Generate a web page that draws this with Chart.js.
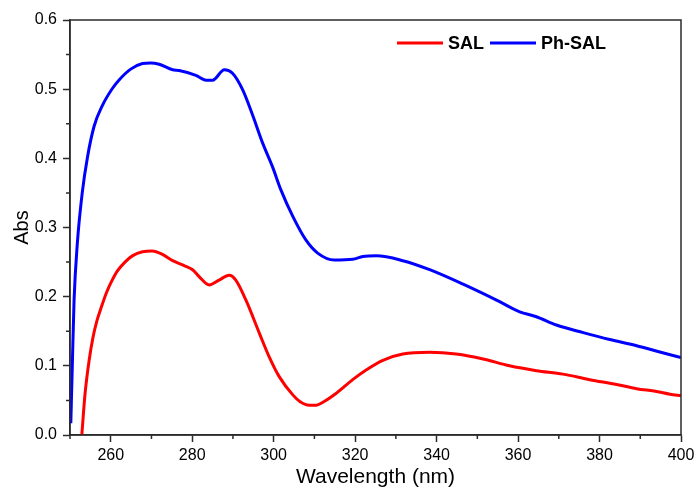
<!DOCTYPE html>
<html>
<head>
<meta charset="utf-8">
<script src="https://cdn.jsdelivr.net/npm/chart.js@4/dist/chart.umd.min.js"></script>
<style>
  html, body { margin: 0; padding: 0; background: #fff; }
  #wrap { width: 694px; height: 488px; }
</style>
</head>
<body>
<div id="wrap"><canvas id="uv" width="694" height="488"></canvas></div>
<script>
// SAL spectrum (wavelength nm / absorbance)
const SAL_NM = [252.9, 253.7, 254.7, 255.6, 256.6, 257.7, 258.9, 260.2, 261.6, 263.5, 265.3, 267.8, 270.2, 272.7,
  275.2, 278, 280.1, 281.7, 284.2, 286.6, 289.1, 290.7, 293.2, 296.5, 298.9, 301.4, 304.7, 306.5,
  308.8, 310.5, 312, 315.3, 319.4, 322.7, 326.8, 331.7, 338.3, 344.8, 351.4, 357.9, 364.5, 371,
  377.6, 384.2, 389.1, 394, 397.3, 400];
const SAL_ABS = [0.0, 0.06, 0.108, 0.14, 0.165, 0.185, 0.205, 0.222, 0.237, 0.25, 0.259, 0.265, 0.266, 0.261,
  0.252, 0.245, 0.239, 0.229, 0.217, 0.224, 0.231, 0.224, 0.195, 0.147, 0.113, 0.084, 0.058, 0.048,
  0.043, 0.043, 0.047, 0.06, 0.08, 0.094, 0.108, 0.117, 0.1195, 0.117, 0.11, 0.1, 0.093, 0.088,
  0.08, 0.073, 0.067, 0.063, 0.059, 0.057];

// Ph-SAL spectrum
const PHSAL_NM = [250.2, 250.6, 251, 251.8, 253, 254.3, 255.9, 258, 260.4, 262, 264.9, 267.8, 269.8,
  271.9, 275.2, 276.8, 280.9, 283.4, 285, 287.9, 289.9, 292.4, 294.8, 297.3, 299.7, 301.8, 304.7,
  307.9, 310.8, 314.9, 319.4, 321.9, 325.2, 331.7, 338.3, 346.5, 354.7, 360.4, 364.5, 369.4, 376,
  382.5, 389.1, 394.8, 400];
const PHSAL_ABS = [0.017, 0.108, 0.195, 0.277, 0.35, 0.402, 0.446, 0.477, 0.501, 0.513, 0.529, 0.537, 0.538,
  0.536, 0.528, 0.527, 0.52, 0.513, 0.513, 0.528, 0.523, 0.499, 0.463, 0.422, 0.388, 0.354, 0.316,
  0.282, 0.263, 0.253, 0.254, 0.258, 0.259, 0.252, 0.239, 0.218, 0.195, 0.178, 0.171, 0.159, 0.148,
  0.138, 0.129, 0.12, 0.112];

const SERIES = ['SAL', 'Ph-SAL'];
const COLORS = ['#ff0000', '#0000ff'];

const X_MAJOR = [260, 280, 300, 320, 340, 360, 380, 400];
const X_MINOR = [250, 270, 290, 310, 330, 350, 370, 390];
const Y_MINOR = [0.05, 0.15, 0.25, 0.35, 0.45, 0.55];

const AXIS = '#2b2b2b';
const FONT = "'Liberation Sans', Arial, sans-serif";

const toPoints = (xs, ys) => xs.map((x, i) => ({ x: x, y: ys[i] }));

// box round the plot, short minor ticks and the legend inside the plot
const framePlugin = {
  id: 'frame',
  afterDraw(chart) {
    const { ctx, chartArea: a, scales: { x, y } } = chart;
    ctx.save();
    ctx.strokeStyle = AXIS;
    ctx.lineWidth = 1.5;
    ctx.strokeRect(a.left, a.top, a.right - a.left, a.bottom - a.top);
    ctx.beginPath();
    X_MINOR.forEach(v => {
      const px = x.getPixelForValue(v);
      ctx.moveTo(px, a.bottom);
      ctx.lineTo(px, a.bottom + 4);
    });
    Y_MINOR.forEach(v => {
      const py = y.getPixelForValue(v);
      ctx.moveTo(a.left, py);
      ctx.lineTo(a.left - 4, py);
    });
    ctx.stroke();

    // legend
    ctx.font = 'bold 18px ' + FONT;
    ctx.textBaseline = 'middle';
    ctx.textAlign = 'left';
    let lx = 397;
    const ly = 43;
    chart.data.datasets.forEach(ds => {
      ctx.strokeStyle = ds.borderColor;
      ctx.lineWidth = 3;
      ctx.beginPath();
      ctx.moveTo(lx, ly);
      ctx.lineTo(lx + 46, ly);
      ctx.stroke();
      ctx.fillStyle = '#000';
      ctx.fillText(ds.label, lx + 51, ly + 1);
      lx += 51 + ctx.measureText(ds.label).width + 6;
    });
    ctx.restore();
  }
};

const dataUV = {
  datasets: [
    { label: SERIES[0], data: toPoints(SAL_NM, SAL_ABS), borderColor: COLORS[0] },
    { label: SERIES[1], data: toPoints(PHSAL_NM, PHSAL_ABS), borderColor: COLORS[1] }
  ].map(d => Object.assign(d, {
    borderWidth: 3,
    pointRadius: 0,
    fill: false,
    cubicInterpolationMode: 'monotone'
  }))
};

const configUV = {
  type: 'line',
  data: dataUV,
  options: {
    responsive: false,
    animation: false,
    devicePixelRatio: 1,
    layout: { padding: { top: 20, right: 13, left: 0, bottom: 0 } },
    plugins: {
      legend: { display: false },
      tooltip: { enabled: false }
    },
    scales: {
      x: {
        type: 'linear',
        min: 250,
        max: 400,
        afterBuildTicks: s => { s.ticks = X_MAJOR.map(v => ({ value: v })); },
        afterFit: s => { s.height = 53; s.paddingLeft = 0; s.paddingRight = 0; },
        grid: { drawOnChartArea: false, tickLength: 7, tickColor: AXIS, tickWidth: 1.5 },
        border: { color: AXIS, width: 1.5 },
        ticks: { color: '#000', font: { family: FONT, size: 16 }, padding: 4, maxRotation: 0 },
        title: {
          display: true,
          text: 'Wavelength (nm)',
          color: '#000',
          font: { family: FONT, size: 21, lineHeight: 1 },
          padding: { top: 0, bottom: 0 }
        }
      },
      y: {
        min: 0,
        max: 0.6,
        afterFit: s => { s.width = 70; s.paddingTop = 0; s.paddingBottom = 0; },
        grid: { drawOnChartArea: false, tickLength: 7, tickColor: AXIS, tickWidth: 1.5 },
        border: { color: AXIS, width: 1.5 },
        ticks: {
          stepSize: 0.1,
          color: '#000',
          font: { family: FONT, size: 16 },
          padding: 6,
          callback: v => Number(v).toFixed(1)
        },
        title: {
          display: true,
          text: 'Abs',
          color: '#000',
          font: { family: FONT, size: 20 },
          padding: { top: 10, bottom: 0 }
        }
      }
    }
  },
  plugins: [framePlugin]
};

const chartUV = new Chart(document.getElementById('uv'), configUV);
</script>
</body>
</html>
